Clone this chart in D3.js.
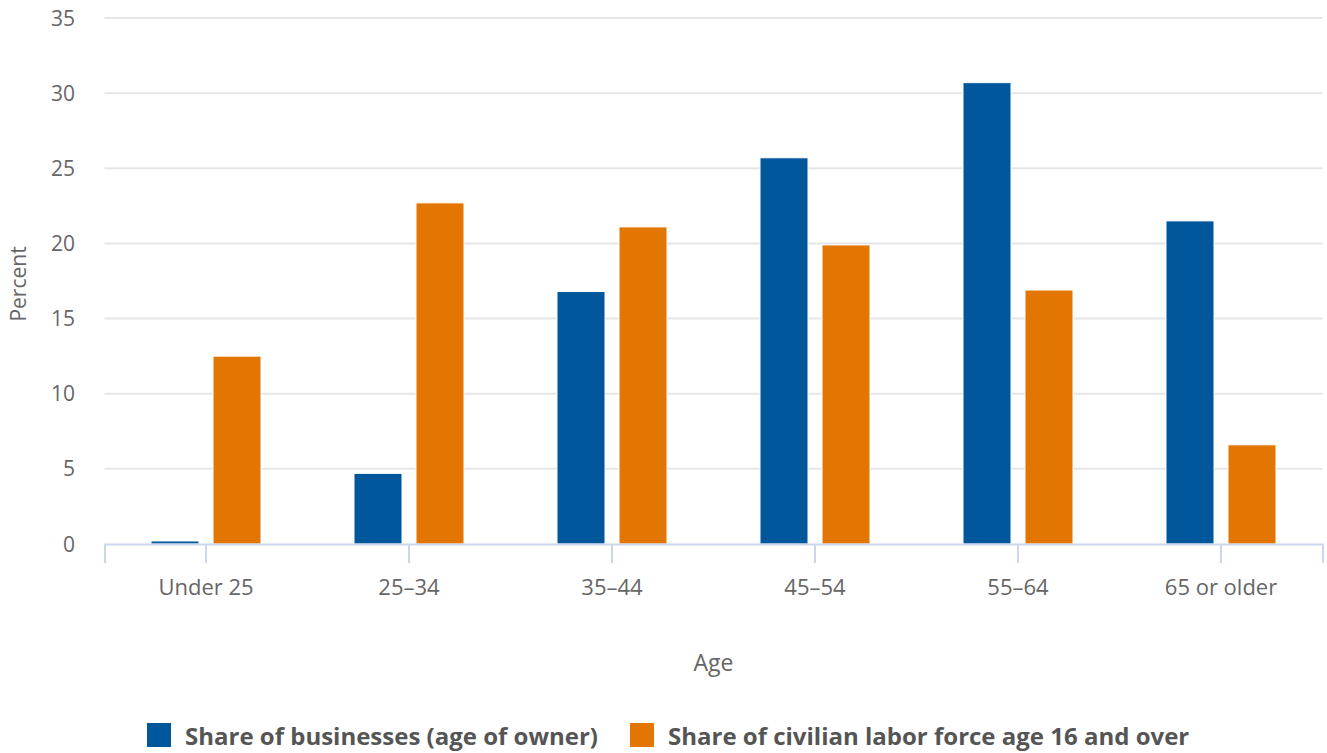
<!DOCTYPE html>
<html>
<head>
<meta charset="utf-8">
<script src="https://cdn.jsdelivr.net/npm/d3@7"></script>
<style>
  body { margin: 0; background: #fff; }
  svg { font-family: 'Open Sans', sans-serif; display: block; }
</style>
</head>
<body>
<svg id="svg" width="1327" height="753"></svg>
<script>
const width = 1327;
const height = 753;

const categories = ['Under 25', '25–34', '35–44', '45–54', '55–64', '65 or older'];
const seriesNames = ['Share of businesses (age of owner)', 'Share of civilian labor force age 16 and over'];
const businesses = [0.2, 4.7, 16.8, 25.7, 30.7, 21.5];
const laborForce = [12.5, 22.7, 21.1, 19.9, 16.9, 6.6];
const yTicks = [0, 5, 10, 15, 20, 25, 30, 35];
const colors = ['#00579b', '#e37502'];

const paddings = {
	left: 104.5,
	top: 18,
	right: 4.5,
	bottom: 209
};

const svg = d3.select('#svg');

const xScale = d3.scaleBand()
	.domain(categories)
	.range([paddings.left, width - paddings.right]);

const yScale = d3.scaleLinear()
	.domain([0, 35])
	.range([height - paddings.bottom, paddings.top]);

const inner = d3.scaleBand()
	.domain([0, 1])
	.range([0, 110])
	.paddingInner(14 / 62);

// gridlines
svg.append('g')
	.selectAll('line')
	.data(yTicks.filter(d => d > 0))
	.enter()
	.append('line')
	.attr('x1', paddings.left)
	.attr('x2', width - paddings.right)
	.attr('y1', d => yScale(d))
	.attr('y2', d => yScale(d))
	.attr('stroke', '#e6e6e6')
	.attr('stroke-width', 2);

// y labels
svg.append('g')
	.selectAll('text')
	.data(yTicks)
	.enter()
	.append('text')
	.attr('x', 75)
	.attr('y', d => yScale(d))
	.attr('dy', '0.36em')
	.attr('text-anchor', 'end')
	.attr('fill', '#666')
	.style('font-size', '21px')
	.text(d => d);

// bars
const rows = categories.map((c, i) => ({ cat: c, vals: [businesses[i], laborForce[i]] }));

const groups = svg.append('g')
	.selectAll('g')
	.data(rows)
	.enter()
	.append('g')
	.attr('transform', d => 'translate(' + (xScale(d.cat) + xScale.bandwidth() / 2 - 55) + ',0)');

groups.selectAll('rect')
	.data(d => d.vals.map((v, k) => ({ v, k })))
	.enter()
	.append('rect')
	.attr('x', d => inner(d.k))
	.attr('y', d => yScale(d.v))
	.attr('width', inner.bandwidth())
	.attr('height', d => yScale(0) - yScale(d.v))
	.attr('fill', d => colors[d.k])
	.attr('stroke', '#fff')
	.attr('stroke-width', 1);

// x axis
const xAxis = d3.axisBottom(xScale).tickSize(19).tickPadding(16);

const gx = svg.append('g')
	.attr('transform', 'translate(0,' + yScale(0) + ')')
	.call(xAxis);

gx.select('.domain').attr('stroke', '#ccd6eb').attr('stroke-width', 2);
gx.selectAll('.tick line').attr('stroke', '#ccd6eb').attr('stroke-width', 2);
gx.selectAll('.tick text')
	.attr('fill', '#666')
	.style('font-size', '22px')
	.style('font-family', "'Open Sans', sans-serif");

// axis titles
svg.append('text')
	.attr('x', (paddings.left + width - paddings.right) / 2)
	.attr('y', 671)
	.attr('text-anchor', 'middle')
	.attr('fill', '#666')
	.style('font-size', '23px')
	.text('Age');

svg.append('text')
	.attr('transform', 'translate(26,' + ((paddings.top + yScale(0)) / 2 + 3) + ') rotate(-90)')
	.attr('text-anchor', 'middle')
	.attr('fill', '#666')
	.style('font-size', '21px')
	.text('Percent');

// legend
const legendX = [147, 630];
const legend = svg.append('g')
	.selectAll('g')
	.data(seriesNames)
	.enter()
	.append('g')
	.attr('transform', (d, i) => 'translate(' + legendX[i] + ',723)');

legend.append('rect')
	.attr('width', 24)
	.attr('height', 24)
	.attr('fill', (d, i) => colors[i]);

legend.append('text')
	.attr('x', 38)
	.attr('y', 22)
	.attr('fill', '#555')
	.style('font-size', '24px')
	.style('font-weight', 'bold')
	.text(d => d);
</script>
</body>
</html>
